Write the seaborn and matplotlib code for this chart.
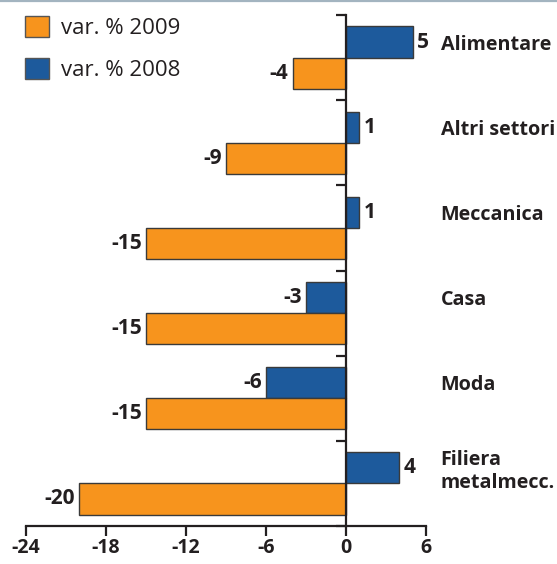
import matplotlib
matplotlib.use("Agg")
import matplotlib.pyplot as plt
import seaborn as sns
import pandas as pd
from matplotlib.patches import Patch
from matplotlib.lines import Line2D

# data
categories = ["Alimentare", "Altri settori", "Meccanica", "Casa", "Moda", "Filiera\nmetalmecc."]
var_2008 = [5, 1, 1, -3, -6, 4]
var_2009 = [-4, -9, -15, -15, -15, -20]
series_names = ["var. % 2008", "var. % 2009"]
x_ticks = [-24, -18, -12, -6, 0, 6]

df = pd.DataFrame({
    "settore": categories * 2,
    "serie": [series_names[0]] * len(categories) + [series_names[1]] * len(categories),
    "valore": var_2008 + var_2009,
})

orange = "#F7941D"
blue = "#1D5A9C"
dark = "#231F20"
palette = {series_names[0]: blue, series_names[1]: orange}

sns.set_style("white")
plt.rcParams["font.family"] = ["Open Sans", "DejaVu Sans"]

fig = plt.figure(figsize=(5.57, 5.64), dpi=100)
ax = fig.add_axes([26 / 557, 1 - 526 / 564, 400 / 557, 511 / 564])

sns.barplot(data=df, y="settore", x="valore", hue="serie", hue_order=series_names,
            palette=palette, orient="h", width=0.73, edgecolor="#3a3a3a",
            linewidth=1, saturation=1, legend=False, ax=ax)

ax.set_xlim(-24, 6)
ax.set_ylim(len(categories) - 0.5, -0.5)
ax.set_xticks(x_ticks)
ax.set_xticklabels([str(t) for t in x_ticks], fontsize=14, fontweight="bold", color=dark)
ax.set_yticks([i - 0.5 for i in range(len(categories) + 1)])
ax.set_yticklabels([])
ax.set_xlabel("")
ax.set_ylabel("")

for s in ["top", "right"]:
    ax.spines[s].set_visible(False)
ax.spines["left"].set_position(("data", 0))
for s in ["left", "bottom"]:
    ax.spines[s].set_color(dark)
    ax.spines[s].set_linewidth(1.6)
ax.tick_params(axis="x", direction="out", length=7.5, width=1.6, color=dark, pad=1, bottom=True)
ax.tick_params(axis="y", direction="out", length=7, width=1.6, color=dark, left=True)

# value labels
for cont in ax.containers:
    ax.bar_label(cont, fmt="%g", padding=3, fontsize=15, fontweight="bold", color=dark)

# category labels next to the 2008 bar
for i, name in enumerate(categories):
    ax.text(7.1, i - 0.1825, name, ha="left", va="center_baseline", fontsize=14.2,
            fontweight="bold", color=dark, clip_on=False, linespacing=1.15)

# legend
handles = [Patch(facecolor=orange, edgecolor="#555555", linewidth=1),
           Patch(facecolor=blue, edgecolor="#555555", linewidth=1)]
fig.legend(handles=handles, labels=[series_names[1], series_names[0]],
           loc="upper left", bbox_to_anchor=(23 / 557, 1 - 14 / 564),
           frameon=False, prop={"size": 16}, labelcolor=dark,
           handlelength=1.05, handleheight=1.05, handletextpad=0.55,
           labelspacing=0.86, borderaxespad=0, borderpad=0.1)

# top rule
fig.add_artist(Line2D([0, 1], [1 - 1 / 564, 1 - 1 / 564], color="#A3B4C0", linewidth=1.6,
                      transform=fig.transFigure))

fig.savefig("out.png", dpi=100)
